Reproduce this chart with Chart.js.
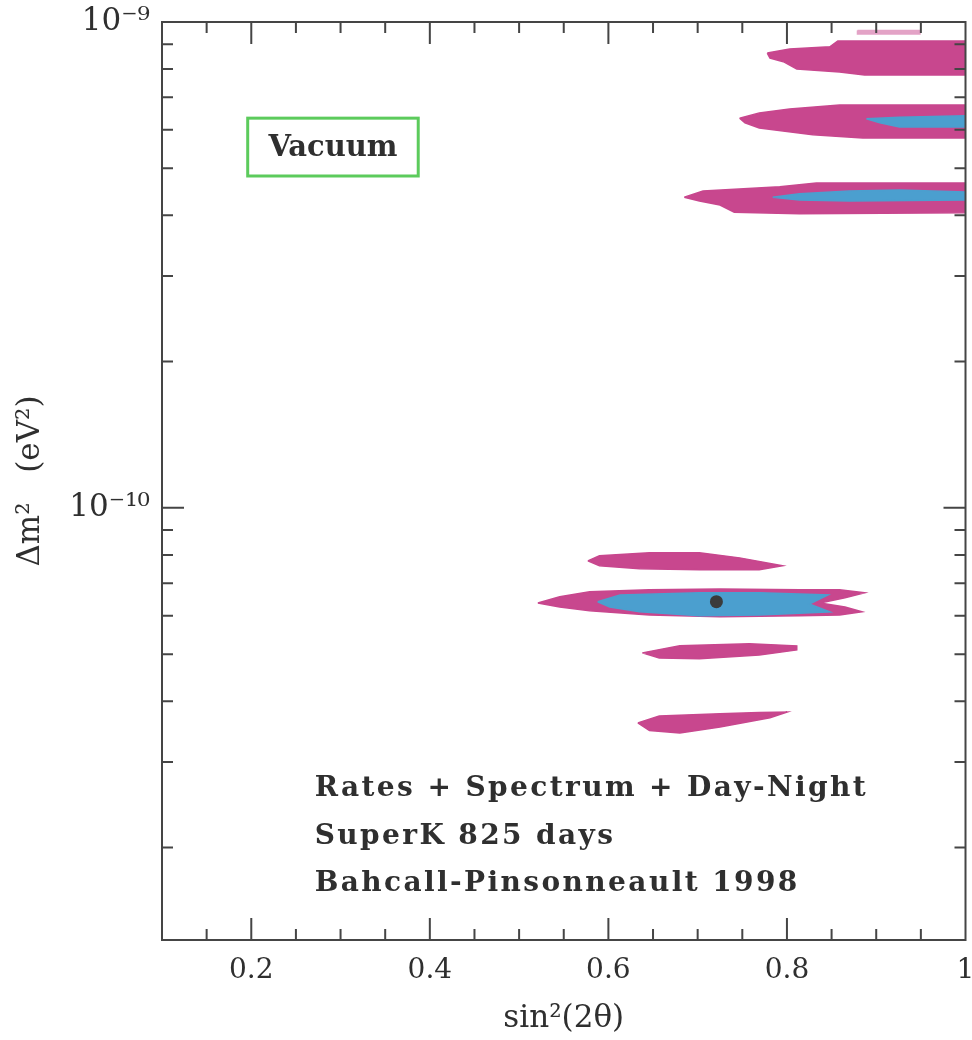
<!DOCTYPE html>
<html><head><meta charset="utf-8">
<script src="https://cdn.jsdelivr.net/npm/chart.js@4.4.1/dist/chart.umd.min.js"></script>
<style>html,body{margin:0;padding:0;background:#fff;}canvas{display:block}</style>
</head><body>
<canvas id="c" width="972" height="1040"></canvas>
<script>
// ---- axis ticks ----
const xTickValues = [0.2, 0.4, 0.6, 0.8, 1];
const xMinorTicks = [0.15, 0.2, 0.25, 0.3, 0.35, 0.4, 0.45, 0.5, 0.55, 0.6, 0.65, 0.7, 0.75, 0.8, 0.85, 0.9, 0.95];
const yTickValues = [1e-10, 1e-9];
const yMinorTicks = [2e-11, 3e-11, 4e-11, 5e-11, 6e-11, 7e-11, 8e-11, 9e-11, 1e-10,
                     2e-10, 3e-10, 4e-10, 5e-10, 6e-10, 7e-10, 8e-10, 9e-10];

// ---- allowed regions (outer = magenta, inner = blue) ----
const islandA_x = [0.778, 0.803, 0.848, 0.857, 1.0, 1.0, 0.887, 0.859, 0.811, 0.797, 0.781];
const islandA_y = [8.63e-10, 8.80e-10, 8.89e-10, 9.14e-10, 9.14e-10, 7.78e-10, 7.78e-10, 7.89e-10, 8.00e-10, 8.27e-10, 8.43e-10];
const sliverA_x = [0.879, 0.949, 0.949, 0.879];
const sliverA_y = [9.60e-10, 9.60e-10, 9.45e-10, 9.45e-10];
const islandB_x = [0.747, 0.769, 0.803, 0.859, 1.0, 1.0, 0.885, 0.829, 0.769, 0.753];
const islandB_y = [6.34e-10, 6.50e-10, 6.62e-10, 6.75e-10, 6.75e-10, 5.77e-10, 5.77e-10, 5.86e-10, 6.05e-10, 6.20e-10];
const coreB_x = [0.889, 0.926, 1.0, 1.0, 0.926, 0.904];
const coreB_y = [6.32e-10, 6.37e-10, 6.41e-10, 6.08e-10, 6.08e-10, 6.20e-10];
const islandC_x = [0.685, 0.706, 0.792, 0.833, 1.0, 1.0, 0.814, 0.741, 0.725, 0.702];
const islandC_y = [4.36e-10, 4.49e-10, 4.58e-10, 4.66e-10, 4.66e-10, 4.05e-10, 4.03e-10, 4.06e-10, 4.20e-10, 4.28e-10];
const coreC_x = [0.784, 0.814, 0.870, 0.926, 1.0, 1.0, 0.870, 0.814];
const coreC_y = [4.36e-10, 4.43e-10, 4.49e-10, 4.51e-10, 4.47e-10, 4.30e-10, 4.28e-10, 4.30e-10];
const islandD_x = [0.577, 0.590, 0.646, 0.702, 0.747, 0.795, 0.769, 0.702, 0.635, 0.590];
const islandD_y = [7.78e-11, 7.97e-11, 8.08e-11, 8.08e-11, 7.89e-11, 7.60e-11, 7.46e-11, 7.46e-11, 7.49e-11, 7.60e-11];
const islandE_x = [0.521, 0.5455, 0.579, 0.646, 0.725, 0.814, 0.859, 0.887, 0.865, 0.837, 0.865, 0.884, 0.859, 0.814, 0.725, 0.646, 0.579, 0.5455];
const islandE_y = [6.37e-11, 6.56e-11, 6.72e-11, 6.78e-11, 6.81e-11, 6.78e-11, 6.78e-11, 6.69e-11, 6.53e-11, 6.37e-11, 6.25e-11, 6.11e-11, 6.02e-11, 6.0e-11, 5.97e-11, 6.02e-11, 6.14e-11, 6.25e-11];
const coreE_x = [0.588, 0.613, 0.702, 0.769, 0.846, 0.825, 0.848, 0.769, 0.702, 0.635, 0.6015];
const coreE_y = [6.41e-11, 6.62e-11, 6.69e-11, 6.69e-11, 6.62e-11, 6.34e-11, 6.11e-11, 6.02e-11, 6.0e-11, 6.11e-11, 6.25e-11];
const islandF_x = [0.638, 0.680, 0.758, 0.811, 0.811, 0.769, 0.702, 0.657];
const islandF_y = [5.03e-11, 5.20e-11, 5.25e-11, 5.20e-11, 5.10e-11, 4.98e-11, 4.89e-11, 4.91e-11];
const islandG_x = [0.633, 0.657, 0.725, 0.769, 0.800, 0.781, 0.725, 0.680, 0.646];
const islandG_y = [3.61e-11, 3.73e-11, 3.77e-11, 3.79e-11, 3.80e-11, 3.70e-11, 3.54e-11, 3.44e-11, 3.48e-11];
const bestFit_x = [0.721];
const bestFit_y = [6.41e-11];

const textLines = ['Rates + Spectrum + Day-Night', 'SuperK 825 days', 'Bahcall-Pinsonneault 1998'];
const boxLabel = 'Vacuum';

const MAGENTA = '#c8478e', BLUE = '#4b9fcf', LIGHTPINK = '#e3a3c6';
const FONT = 'DejaVu Serif';
const INK = '#2f2f2f';

function closed(xs, ys) {
  const pts = xs.map((x, i) => ({x: x, y: ys[i]}));
  pts.push({x: xs[0], y: ys[0]});
  return pts;
}
function poly(xs, ys, color, order) {
  return {type: 'line', data: closed(xs, ys), showLine: true, fill: 'shape',
          backgroundColor: color, borderColor: color, borderWidth: 1.5,
          pointRadius: 0, tension: 0, order: order};
}

const framePlugin = {
  id: 'frame',
  afterDatasetsDraw(chart) {
    const {ctx, chartArea: a, scales: {x, y}} = chart;
    ctx.save();
    ctx.strokeStyle = '#454545';
    ctx.lineWidth = 2;
    ctx.strokeRect(a.left, a.top, a.right - a.left, a.bottom - a.top);
    ctx.beginPath();
    xMinorTicks.forEach(v => {
      const px = x.getPixelForValue(v);
      const L = xTickValues.includes(v) ? 22 : 11;
      ctx.moveTo(px, a.bottom); ctx.lineTo(px, a.bottom - L);
      ctx.moveTo(px, a.top); ctx.lineTo(px, a.top + L);
    });
    yMinorTicks.forEach(v => {
      const py = y.getPixelForValue(v);
      const L = yTickValues.includes(v) ? 22 : 11;
      ctx.moveTo(a.left, py); ctx.lineTo(a.left + L, py);
      ctx.moveTo(a.right, py); ctx.lineTo(a.right - L, py);
    });
    ctx.stroke();

    // Vacuum box
    const bx0 = x.getPixelForValue(0.196), bx1 = x.getPixelForValue(0.387);
    const by0 = y.getPixelForValue(6.34e-10), by1 = y.getPixelForValue(4.82e-10);
    ctx.strokeStyle = '#5ccb5c';
    ctx.lineWidth = 3;
    ctx.strokeRect(bx0, by0, bx1 - bx0, by1 - by0);
    ctx.fillStyle = INK;
    ctx.font = 'bold 29px "' + FONT + '"';
    ctx.textBaseline = 'middle';
    ctx.textAlign = 'center';
    ctx.fillText(boxLabel, (bx0 + bx1) / 2, (by0 + by1) / 2 + 1);

    // annotation text
    ctx.textAlign = 'left';
    ctx.textBaseline = 'alphabetic';
    ctx.font = 'bold 28px "' + FONT + '"';
    ctx.letterSpacing = '2.4px';
    const tx = x.getPixelForValue(0.271);
    textLines.forEach((t, i) => ctx.fillText(t, tx, a.top + 774 + i * 47.5));
    ctx.restore();
  }
};

new Chart(document.getElementById('c'), {
  type: 'scatter',
  data: {
    datasets: [
      {type: 'scatter', data: bestFit_x.map((v, i) => ({x: v, y: bestFit_y[i]})),
       pointRadius: 6.5, backgroundColor: '#3b3b3b', borderColor: '#3b3b3b', borderWidth: 0, order: 0},
      poly(coreB_x, coreB_y, BLUE, 1),
      poly(coreC_x, coreC_y, BLUE, 1),
      poly(coreE_x, coreE_y, BLUE, 1),
      poly(islandA_x, islandA_y, MAGENTA, 2),
      poly(sliverA_x, sliverA_y, LIGHTPINK, 2),
      poly(islandB_x, islandB_y, MAGENTA, 2),
      poly(islandC_x, islandC_y, MAGENTA, 2),
      poly(islandD_x, islandD_y, MAGENTA, 2),
      poly(islandE_x, islandE_y, MAGENTA, 2),
      poly(islandF_x, islandF_y, MAGENTA, 2),
      poly(islandG_x, islandG_y, MAGENTA, 2)
    ]
  },
  options: {
    responsive: false,
    animation: false,
    events: [],
    layout: {padding: {left: 0, right: 6, top: 22, bottom: 0}},
    plugins: {legend: {display: false}, tooltip: {enabled: false}},
    scales: {
      x: {
        type: 'linear', min: 0.1, max: 1,
        grid: {display: false, drawTicks: false},
        border: {display: false},
        ticks: {padding: 14, color: INK, font: {family: FONT, size: 28},
                maxRotation: 0, autoSkip: false,
                callback: v => (v === 1 ? '1' : v.toFixed(1))},
        afterBuildTicks: s => { s.ticks = xTickValues.map(v => ({value: v})); },
        afterFit: s => { s.height = 100; s.paddingLeft = 0; s.paddingRight = 0; },
        title: {display: true, text: 'sin²(2θ)', color: INK,
                font: {family: FONT, size: 31}, padding: {top: 2, bottom: 2}}
      },
      y: {
        type: 'logarithmic', min: 1.29e-11, max: 1e-9,
        grid: {display: false, drawTicks: false},
        border: {display: false},
        ticks: {padding: 12, color: INK, font: {family: FONT, size: 31}, autoSkip: false,
                callback: v => (v === 1e-9 ? '10⁻⁹' : v === 1e-10 ? '10⁻¹⁰' : '')},
        afterBuildTicks: s => { s.ticks = yTickValues.map(v => ({value: v})); },
        afterFit: s => { s.width = 162; s.paddingTop = 0; s.paddingBottom = 0; },
        title: {display: true, text: 'Δm²   (eV²)', color: INK,
                font: {family: FONT, size: 31}, padding: {top: 12, bottom: 0}}
      }
    }
  },
  plugins: [framePlugin]
});
</script>
</body></html>
